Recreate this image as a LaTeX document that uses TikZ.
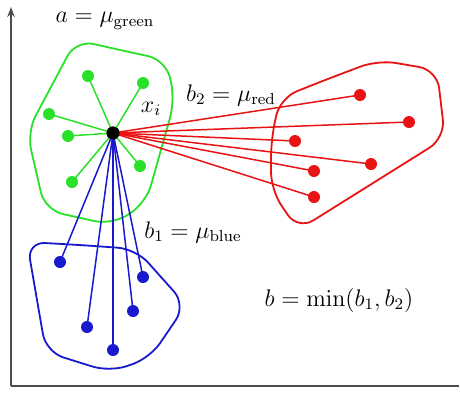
\documentclass[tikz,border=0pt]{standalone}
\usepackage{amsmath}
\usepackage{tikz}
\usetikzlibrary{arrows.meta}
\definecolor{ptgreen}{RGB}{40,225,40}
\definecolor{ptred}{RGB}{232,20,20}
\definecolor{ptblue}{RGB}{25,25,205}
\tikzset{
  pt/.style={circle, inner sep=0pt, minimum size=6pt},
  link/.style={line width=0.75pt},
  hull/.style={line width=0.9pt, rounded corners=9pt},
  lbl/.style={font=\large}
}

\begin{document}
\begin{tikzpicture}[x=0.5pt, y=-0.5pt]
  \useasboundingbox (0,0) rectangle (460,392);
  % axes
  \draw[line width=0.8pt, black!70, -{Stealth[length=5pt]}] (11,386) -- (11,7);
  \draw[line width=0.9pt, black!70] (11,386) -- (459,386);

  % clusters
  \draw[ptgreen, hull] (120,50) -- (166,60) -- (175,100) -- (146,203) -- (112,225) -- (45,210) -- (27,132) -- (76,40) -- cycle;
  \draw[ptred, hull] (325,80) -- (378,60) -- (437,70) -- (445,138) -- (298,230) -- (271,190) -- (271,140) -- (280,98) -- cycle;
  \draw[ptblue, hull] (80,245) -- (136,249) -- (186,305) -- (150,358) -- (110,372) -- (46,352) -- (27,242) -- cycle;

  \node[pt, fill=black, minimum size=6.5pt] (xi) at (113,133) {};

  \node[pt, fill=ptgreen] (g1) at (88,76) {};
  \node[pt, fill=ptgreen] (g2) at (143,83) {};
  \node[pt, fill=ptgreen] (g3) at (49,114) {};
  \node[pt, fill=ptgreen] (g4) at (68,136) {};
  \node[pt, fill=ptgreen] (g5) at (140,166) {};
  \node[pt, fill=ptgreen] (g6) at (72,182) {};

  \node[pt, fill=ptred] (r1) at (360,95) {};
  \node[pt, fill=ptred] (r2) at (409,122) {};
  \node[pt, fill=ptred] (r3) at (295,141) {};
  \node[pt, fill=ptred] (r4) at (371,164) {};
  \node[pt, fill=ptred] (r5) at (314,171) {};
  \node[pt, fill=ptred] (r6) at (314,197) {};

  \node[pt, fill=ptblue] (u1) at (60,262) {};
  \node[pt, fill=ptblue] (u2) at (143,277) {};
  \node[pt, fill=ptblue] (u3) at (133,311) {};
  \node[pt, fill=ptblue] (u4) at (87,327) {};
  \node[pt, fill=ptblue] (u5) at (113,350) {};

  \foreach \i in {1,...,6} \draw[ptgreen, link] (xi.center) -- (g\i.center);
  \foreach \i in {1,...,6} \draw[ptred, link] (xi.center) -- (r\i.center);
  \foreach \i in {1,...,5} \draw[ptblue, link] (xi.center) -- (u\i.center);
  \node[pt, fill=black, minimum size=6.5pt] at (xi) {};

  % labels
  \node[lbl] (la) at (105,21) {$a=\mu_{\text{green}}$};
  \node[lbl] (lx) at (151,109) {$x_i$};
  \node[lbl] (lb2) at (231,95) {$b_2=\mu_{\text{red}}$};
  \node[lbl] (lb1) at (193,232) {$b_1=\mu_{\text{blue}}$};
  \node[lbl] (lb) at (339,300) {$b=\min(b_1,b_2)$};
\end{tikzpicture}
\end{document}
